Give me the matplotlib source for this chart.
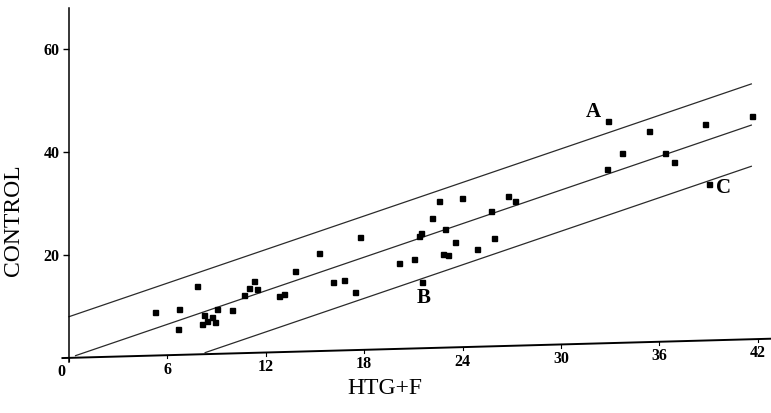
import numpy as np
import matplotlib
matplotlib.use("Agg")
import matplotlib.pyplot as plt
import matplotlib.transforms as mtransforms

# ---- data (HTG+F vs CONTROL) ----
htg_f = [5.24, 6.71, 6.63, 7.79, 8.23, 8.09, 8.43, 8.74, 8.90, 9.04,
         9.96, 10.69, 10.96, 11.28, 11.48, 12.79, 13.11, 13.76, 15.24, 16.08,
         16.79, 17.42, 17.73, 20.14, 21.04, 21.54, 21.36, 21.48, 22.13, 22.54,
         22.91, 22.82, 23.13, 23.54, 23.95, 24.90, 25.71, 25.93, 26.75, 27.21,
         32.85, 32.79, 33.70, 35.38, 36.34, 36.87, 38.76, 39.04, 41.65]
control = [8.42, 8.93, 5.00, 13.24, 7.63, 5.90, 6.51, 7.26, 6.28, 8.67,
           8.39, 11.24, 12.64, 14.03, 12.34, 10.99, 11.29, 15.75, 19.06, 13.42,
           13.69, 11.24, 21.96, 16.75, 17.34, 12.83, 21.89, 22.46, 25.32, 28.47,
           23.00, 18.27, 17.93, 20.47, 28.93, 19.00, 26.36, 20.98, 29.18, 28.06,
           43.22, 33.85, 36.82, 41.06, 36.70, 34.91, 42.01, 30.33, 43.43]

labels = ["A", "B", "C"]
label_idx = [40, 25, 47]

band = 8.0
line_start = [0.4, 0.0, band + 0.3]     # identity, upper, lower starts
line_end = 41.6
offsets = [0.0, band, -band]

xticks = [0, 6, 12, 18, 24, 30, 36, 42]
yticks = [20, 40, 60]

# scan shear (y rises with x)
k = 0.087

fig = plt.figure(figsize=(7.71, 4.13), dpi=100)
ax = fig.add_axes([0.0895, 0.1235, 0.9105, 0.8575])
ax.set_xlim(0, 42.8)
ax.set_ylim(-0.8, 68)

shear = mtransforms.Affine2D(np.array([[1, 0, 0], [k, 1, 0], [0, 0, 1]])) + ax.transData

serif = "Liberation Serif"

# band lines
for s, off in zip(line_start, offsets):
    xs = np.array([s, line_end])
    ax.plot(xs, xs + off, color="#2a2a2a", lw=0.9, transform=shear, clip_on=False)

# baseline (skewed x axis)
ax.plot([-0.4, 42.8], [0, 0], color="black", lw=1.4, transform=shear, clip_on=False)

# points
ax.plot(htg_f, control, linestyle="none", marker="s", ms=3.6, color="black",
        transform=shear, clip_on=False)

# letter labels
lab_off = {"A": (-10.6, 6.3), "B": (1.2, -11.3), "C": (9.9, -2.7)}
for lab, i in zip(labels, label_idx):
    ax.annotate(lab, (htg_f[i], control[i]), xycoords=shear,
                xytext=lab_off[lab], textcoords="offset points",
                ha="center", va="center", fontsize=15, fontweight="bold",
                family=serif)

# spines
for sp in ["top", "right", "bottom"]:
    ax.spines[sp].set_visible(False)
ax.spines["left"].set_linewidth(1.1)

# y ticks
ax.set_yticks(yticks)
ax.set_yticklabels([str(t) for t in yticks], fontsize=11.5, fontweight="bold", family=serif)
ax.tick_params(axis="y", direction="out", length=4, width=1, pad=3)

# x ticks (along skewed baseline)
ax.set_xticks([])
for t in xticks:
    ax.plot([t, t], [0, -0.6], color="black", lw=0.8, transform=shear, clip_on=False)
    if t == 0:
        ax.text(t - 0.25, -2.8, str(t), transform=shear, ha="right", va="center",
                fontsize=11.5, fontweight="bold", family=serif)
    else:
        ax.text(t, -2.8, str(t), transform=shear, ha="center", va="center",
                fontsize=11.5, fontweight="bold", family=serif)

ax.set_xlabel("HTG+F", fontsize=17, family=serif)
ax.set_ylabel("CONTROL", fontsize=17, family=serif)
ax.yaxis.set_label_coords(-0.064, 0.40)
ax.xaxis.set_label_coords(0.45, -0.045)

fig.savefig("out.png", dpi=100)
